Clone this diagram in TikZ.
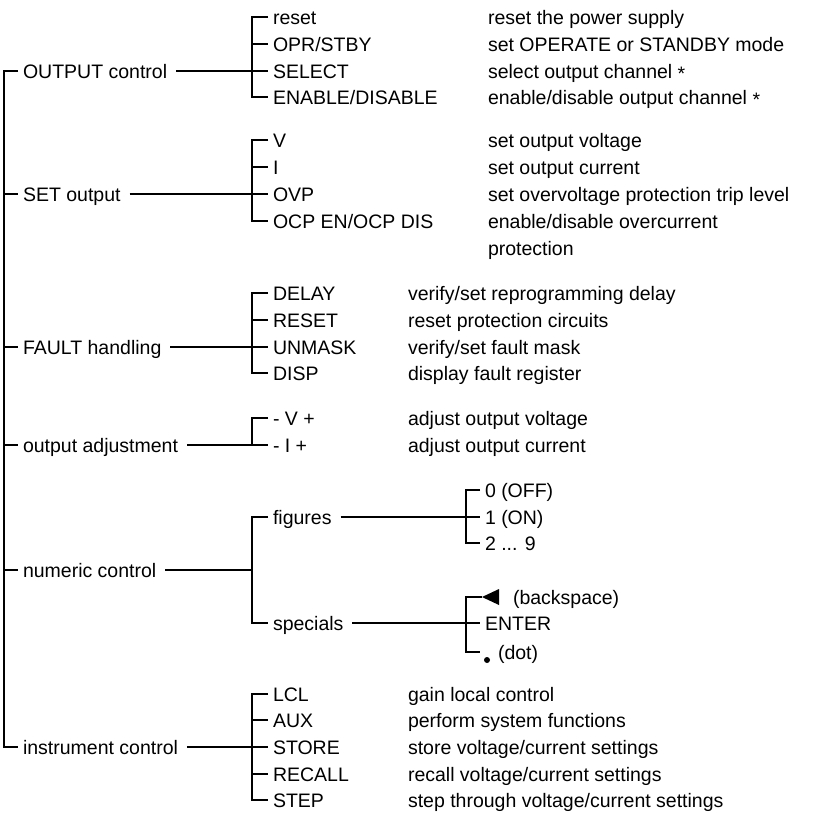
\documentclass[tikz,border=0pt]{standalone}
\usepackage{fontspec}
\setmainfont{Liberation Sans}
\tikzset{every picture/.style={
    every path/.style={line width=1pt},
}}
\tikzset{item/.style = {anchor=west, inner sep=2pt, text height=0.716em,
                        text depth=0pt, font=\fontsize{9.75}{12}\selectfont}}
\tikzset{branch/.style = {shorten <=2pt}}
\begin{document}
\begin{tikzpicture}[x=0.5pt,y=-0.5pt]
      \useasboundingbox (0,0) rectangle (822,813);
      \coordinate (trunk) at (4,0);
      \coordinate (bus) at (252,0);
      \coordinate (bus2) at (466,0);
      % first level
      \node[item] (outctl) at (18,71) {OUTPUT control};
      \node[item] (setout) at (18,194) {SET output};
      \node[item] (fault) at (18,347) {FAULT handling};
      \node[item] (adjust) at (18,445) {output adjustment};
      \node[item] (numctl) at (18,570) {numeric control};
      \node[item] (instctl) at (18,747) {instrument control};
      \draw (outctl.west) -- (trunk |- outctl) -- (trunk |- instctl) -- (instctl.west);
      \foreach \n in {setout,fault,adjust,numctl}
        \draw (trunk |- \n) -- (\n.west);
      % OUTPUT control
      \node[item] (reset) at (268,17) {reset};
      \node[item] (oprstby) at (268,44) {OPR/STBY};
      \node[item] (select) at (268,71) {SELECT};
      \node[item] (endis) at (268,97) {ENABLE/DISABLE};
      \draw[branch] (outctl.east) -- (bus |- outctl);
      \draw (reset.west) -- (bus |- reset) -- (bus |- endis) -- (endis.west);
      \foreach \n in {oprstby,select}
        \draw (bus |- \n) -- (\n.west);
      \node[item] (d1) at (483,17) {reset the power supply};
      \node[item] (d2) at (483,44) {set OPERATE or STANDBY mode};
      \node[item] (d3) at (483,71) {select output channel \raisebox{-0.1em}{*}};
      \node[item] (d4) at (483,97) {enable/disable output channel \raisebox{-0.1em}{*}};
      % SET output
      \node[item] (vset) at (268,140) {V};
      \node[item] (iset) at (268,167) {I};
      \node[item] (ovp) at (268,194) {OVP};
      \node[item] (ocp) at (268,221) {OCP EN/OCP DIS};
      \draw[branch] (setout.east) -- (bus |- setout);
      \draw (vset.west) -- (bus |- vset) -- (bus |- ocp) -- (ocp.west);
      \foreach \n in {iset,ovp}
        \draw (bus |- \n) -- (\n.west);
      \node[item] (d5) at (483,140) {set output voltage};
      \node[item] (d6) at (483,167) {set output current};
      \node[item] (d7) at (483,194) {set overvoltage protection trip level};
      \node[item] (d8) at (483,221) {enable/disable overcurrent};
      \node[item] (d9) at (483,248) {protection};
      % FAULT handling
      \node[item] (delay) at (268,293) {DELAY};
      \node[item] (freset) at (268,320) {RESET};
      \node[item] (unmask) at (268,347) {UNMASK};
      \node[item] (disp) at (268,373) {DISP};
      \draw[branch] (fault.east) -- (bus |- fault);
      \draw (delay.west) -- (bus |- delay) -- (bus |- disp) -- (disp.west);
      \foreach \n in {freset,unmask}
        \draw (bus |- \n) -- (\n.west);
      \node[item] (d10) at (403,293) {verify/set reprogramming delay};
      \node[item] (d11) at (403,320) {reset protection circuits};
      \node[item] (d12) at (403,347) {verify/set fault mask};
      \node[item] (d13) at (403,373) {display fault register};
      % output adjustment
      \node[item] (vadj) at (268,418) {- V +};
      \node[item] (iadj) at (268,445) {- I +};
      \draw[branch] (adjust.east) -- (bus |- adjust);
      \draw (vadj.west) -- (bus |- vadj) -- (bus |- iadj) -- (iadj.west);
      \node[item] (d14) at (403,418) {adjust output voltage};
      \node[item] (d15) at (403,445) {adjust output current};
      % numeric control
      \node[item] (figs) at (268,517) {figures};
      \node[item] (spec) at (268,623) {specials};
      \draw[branch] (numctl.east) -- (bus |- numctl);
      \draw (figs.west) -- (bus |- figs) -- (bus |- spec) -- (spec.west);
      \node[item] (off) at (480,490) {0 (OFF)};
      \node[item] (on) at (480,517) {1 (ON)};
      \node[item] (more) at (480,543) {2 ... 9};
      \draw[branch] (figs.east) -- (bus2 |- figs);
      \draw (off.west) -- (bus2 |- off) -- (bus2 |- more) -- (more.west);
      \draw (bus2 |- on) -- (on.west);
      \coordinate (bs) at (482,597);
      \coordinate (dt) at (480,652);
      \node[item] (bsp) at (508,597) {(backspace)};
      \node[item] (enter) at (480,623) {ENTER};
      \node[item] (dot) at (493,652) {(dot)};
      \draw[branch] (spec.east) -- (bus2 |- spec);
      \draw (bs) -- (bus2 |- bs) -- (bus2 |- dt) -- (dt);
      \draw (bus2 |- enter) -- (enter.west);
      \fill (bs) -- ++(17,-8) -- ++(0,16) -- cycle;
      \fill (487,660) circle (3);
      % instrument control
      \node[item] (lcl) at (268,694) {LCL};
      \node[item] (aux) at (268,720) {AUX};
      \node[item] (store) at (268,747) {STORE};
      \node[item] (recall) at (268,774) {RECALL};
      \node[item] (stepk) at (268,800) {STEP};
      \draw[branch] (instctl.east) -- (bus |- instctl);
      \draw (lcl.west) -- (bus |- lcl) -- (bus |- stepk) -- (stepk.west);
      \foreach \n in {aux,store,recall}
        \draw (bus |- \n) -- (\n.west);
      \node[item] (d16) at (403,694) {gain local control};
      \node[item] (d17) at (403,720) {perform system functions};
      \node[item] (d18) at (403,747) {store voltage/current settings};
      \node[item] (d19) at (403,774) {recall voltage/current settings};
      \node[item] (d20) at (403,800) {step through voltage/current settings};
    \end{tikzpicture}
\end{document}
